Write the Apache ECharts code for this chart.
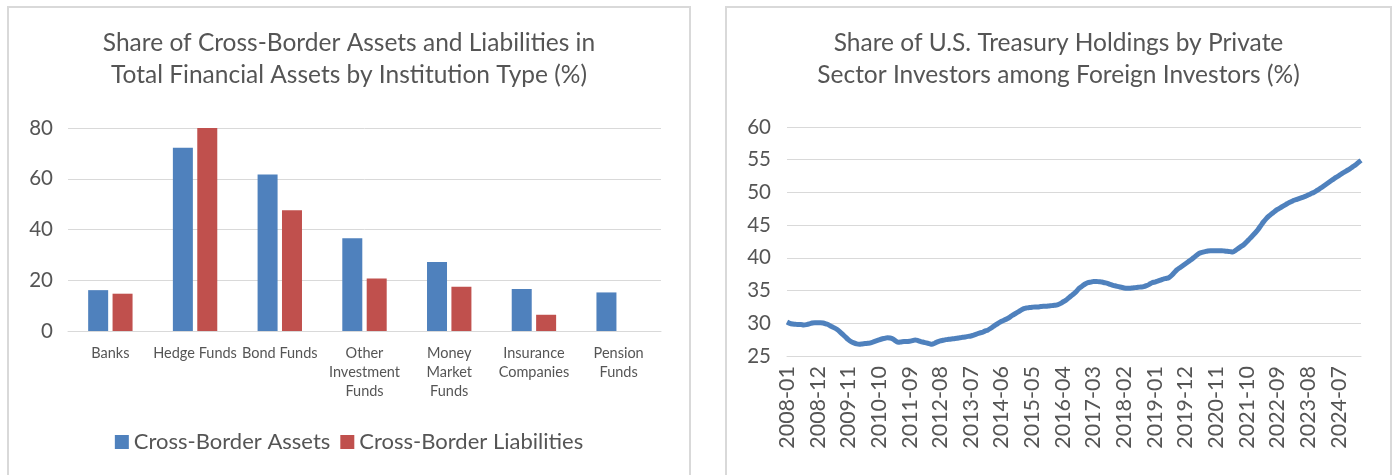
<!DOCTYPE html>
<html>
<head>
<meta charset="utf-8">
<script src="https://cdn.jsdelivr.net/npm/echarts@6/dist/echarts.min.js"></script>
<style>
  body { margin: 0; background: #fff; width: 1392px; height: 475px; overflow: hidden; position: relative; }
  .box { position: absolute; top: 6px; height: 480px; border: 2px solid #d9d9d9; box-sizing: border-box; background: #fff; }
  #left { left: 7px; width: 684px; }
  #right { left: 725px; width: 667px; }
</style>
</head>
<body>
<div class="box" id="left"></div>
<div class="box" id="right"></div>
<script>
// left chart data
const institutions = ["Banks", "Hedge Funds", "Bond Funds", "Other\nInvestment\nFunds", "Money\nMarket\nFunds", "Insurance\nCompanies", "Pension\nFunds"];
const crossBorderAssets = [16.1, 72.2, 61.7, 36.6, 27.2, 16.6, 15.2];
const crossBorderLiabilities = [14.7, 80.0, 47.6, 20.7, 17.4, 6.4, null];
const leftTicks = [0, 20, 40, 60, 80];

// right chart data, monthly from 2008-01
const startYear = 2008;
const privateShare = [
  30.2, 30.0, 29.9, 29.85, 29.8, 29.8, 29.75, 29.8, 29.9, 30.05, 30.1, 30.1,
  30.1, 30.05, 29.9, 29.75, 29.5, 29.3, 29.05, 28.7, 28.3, 27.9, 27.5, 27.2,
  27.0, 26.85, 26.8, 26.85, 26.9, 26.95, 27.0, 27.15, 27.3, 27.45, 27.6, 27.7,
  27.8, 27.75, 27.6, 27.3, 27.1, 27.15, 27.2, 27.2, 27.25, 27.35, 27.45, 27.35,
  27.2, 27.1, 27.0, 26.9, 26.8, 26.95, 27.15, 27.3, 27.4, 27.5, 27.55, 27.6,
  27.65, 27.7, 27.8, 27.85, 27.9, 28.0, 28.05, 28.2, 28.35, 28.5, 28.6, 28.8,
  28.95, 29.2, 29.5, 29.8, 30.05, 30.3, 30.5, 30.7, 30.95, 31.25, 31.5, 31.75,
  32.0, 32.25, 32.35, 32.4, 32.45, 32.5, 32.5, 32.55, 32.6, 32.6, 32.65, 32.7,
  32.75, 32.8, 33.0, 33.25, 33.5, 33.85, 34.2, 34.55, 34.95, 35.4, 35.7, 36.0,
  36.2, 36.3, 36.4, 36.4, 36.35, 36.3, 36.2, 36.1, 35.95, 35.8, 35.7, 35.6,
  35.5, 35.4, 35.35, 35.35, 35.4, 35.45, 35.5, 35.55, 35.6, 35.75, 35.95, 36.2,
  36.3, 36.45, 36.6, 36.75, 36.85, 36.95, 37.3, 37.75, 38.2, 38.5, 38.8, 39.1,
  39.4, 39.7, 40.05, 40.4, 40.7, 40.85, 40.95, 41.05, 41.1, 41.1, 41.1, 41.1,
  41.1, 41.05, 41.0, 40.95, 40.9, 41.15, 41.45, 41.75, 42.05, 42.45, 42.9, 43.35,
  43.8, 44.3, 44.9, 45.5, 46.0, 46.4, 46.75, 47.1, 47.4, 47.65, 47.9, 48.15,
  48.4, 48.6, 48.8, 48.95, 49.1, 49.25, 49.4, 49.6, 49.8, 50.0, 50.25, 50.5,
  50.8, 51.1, 51.4, 51.7, 52.0, 52.3, 52.55, 52.85, 53.1, 53.35, 53.6, 53.9,
  54.2, 54.55, 54.9
];
const rightTicks = [25, 30, 35, 40, 45, 50, 55, 60];

const months = privateShare.map((v, i) => {
  const y = startYear + Math.floor(i / 12);
  const m = (i % 12) + 1;
  return y + "-" + (m < 10 ? "0" + m : m);
});

const font = "Lato";
const textColor = "#555555";
const gridColor = "#d9d9d9";
const blue = "#4f81bd";
const red = "#c0504d";

let leftChart = echarts.init(document.getElementById("left"));
leftChart.setOption({
  animation: false,
  textStyle: { fontFamily: font },
  title: {
    text: "Share of Cross-Border Assets and Liabilities in\nTotal Financial Assets by Institution Type (%)",
    left: "center",
    top: 14,
    textStyle: { fontSize: 24.5, fontWeight: "normal", color: textColor, lineHeight: 32, fontFamily: font }
  },
  grid: { left: 59, right: 28, top: 120, height: 203 },
  legend: {
    bottom: 26,
    left: "center",
    icon: "rect",
    itemWidth: 14,
    itemHeight: 14,
    itemGap: 10,
    textStyle: { fontSize: 22, color: textColor, fontFamily: font }
  },
  xAxis: {
    type: "category",
    data: institutions,
    axisLine: { lineStyle: { color: gridColor } },
    axisTick: { show: false },
    axisLabel: { interval: 0, margin: 13, fontSize: 14.5, lineHeight: 19, color: textColor }
  },
  yAxis: {
    type: "value",
    min: leftTicks[0],
    max: leftTicks[leftTicks.length - 1],
    interval: 20,
    axisLine: { show: false },
    axisTick: { show: false },
    splitLine: { lineStyle: { color: gridColor } },
    axisLabel: { fontSize: 20.5, color: textColor, margin: 15 }
  },
  series: [
    { name: "Cross-Border Assets", type: "bar", data: crossBorderAssets, barWidth: 20, barGap: "22%", itemStyle: { color: blue } },
    { name: "Cross-Border Liabilities", type: "bar", data: crossBorderLiabilities, barWidth: 20, itemStyle: { color: red } }
  ]
});

let rightChart = echarts.init(document.getElementById("right"));
rightChart.setOption({
  animation: false,
  textStyle: { fontFamily: font },
  title: {
    text: "Share of U.S. Treasury Holdings by Private\nSector Investors among Foreign Investors (%)",
    left: "center",
    top: 14,
    textStyle: { fontSize: 24.5, fontWeight: "normal", color: textColor, lineHeight: 32, fontFamily: font }
  },
  grid: { left: 60, right: 29, top: 119, height: 229 },
  xAxis: {
    type: "category",
    data: months,
    boundaryGap: false,
    axisLine: { lineStyle: { color: gridColor } },
    axisTick: { show: false },
    axisLabel: { interval: 10, rotate: 90, margin: 10, fontSize: 21.5, color: textColor }
  },
  yAxis: {
    type: "value",
    min: rightTicks[0],
    max: rightTicks[rightTicks.length - 1],
    interval: 5,
    axisLine: { show: false },
    axisTick: { show: false },
    splitLine: { lineStyle: { color: gridColor } },
    axisLabel: { fontSize: 20.5, color: textColor, margin: 16 }
  },
  series: [
    {
      type: "line",
      data: privateShare,
      showSymbol: false,
      smooth: 0.3,
      lineStyle: { color: blue, width: 5 }
    }
  ]
});
</script>
</body>
</html>
